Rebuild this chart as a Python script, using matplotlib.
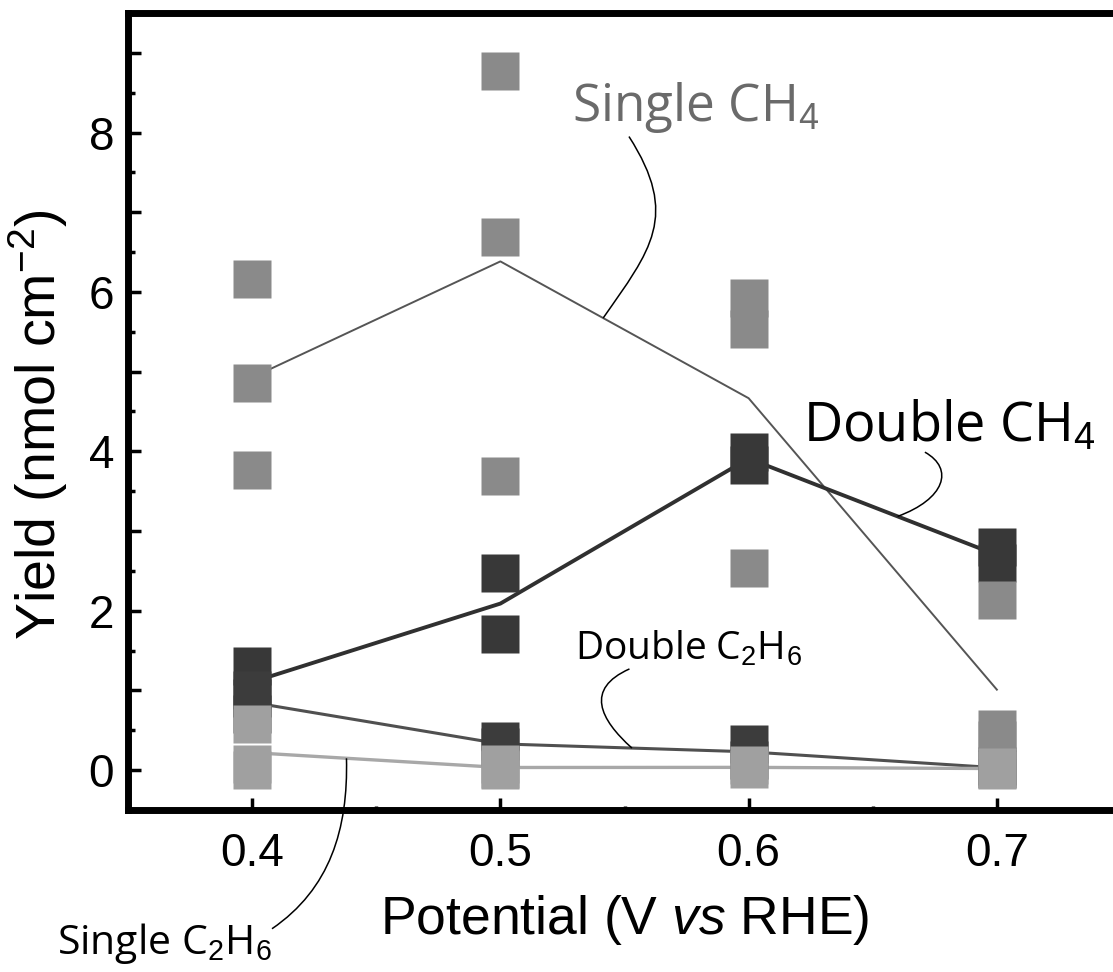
import numpy as np
import matplotlib
matplotlib.use("Agg")
import matplotlib.pyplot as plt
from matplotlib.path import Path
from matplotlib.patches import PathPatch

plt.rcParams["mathtext.fontset"] = "custom"
plt.rcParams["mathtext.rm"] = "Liberation Sans"
plt.rcParams["mathtext.it"] = "Liberation Sans:italic"

# potentials (V vs RHE)
potential = [0.4, 0.5, 0.6, 0.7]

# replicate yields (nmol cm-2) at each potential
single_ch4 = [[6.16, 4.86, 3.76], [8.77, 6.69, 3.69], [5.92, 5.54, 2.54], [2.13, 0.52, 0.38]]
double_ch4 = [[1.31, 0.90], [2.47, 1.71], [3.99, 3.83], [2.80, 2.60]]
double_c2h6 = [[1.00, 0.70], [0.37, 0.29], [0.33, 0.13], [0.05, 0.01]]
single_c2h6 = [[0.58, 0.08, 0.00], [0.08, 0.00, 0.02], [0.06, 0.01], [0.04, 0.00]]

x_ticks = [0.4, 0.5, 0.6, 0.7]
y_ticks = [0, 2, 4, 6, 8]

W, H = 1113, 972
fig = plt.figure(figsize=(W / 100, H / 100), dpi=100)
ax = fig.add_axes([128 / W, (H - 810) / H, (1121 - 128) / W, (810 - 13) / H])

ms = 28  # marker side in points (~39 px)


def scatter_pts(pts, color, z):
    xs, ys = [], []
    for p, vals in zip(potential, pts):
        xs += [p] * len(vals)
        ys += vals
    ax.plot(xs, ys, ls="none", marker="s", ms=ms, mfc=color, mec="none", zorder=z)


def mean_line(pts, color, lw, z):
    m = [np.mean(v) for v in pts]
    ax.plot(potential, m, color=color, lw=lw, zorder=z)
    return m


# lines (means)
m_sch4 = mean_line(single_ch4, "#555555", 1.4, 2)
m_dch4 = mean_line(double_ch4, "#303030", 2.8, 2)
m_dc2 = mean_line(double_c2h6, "#505050", 2.2, 2)
m_sc2 = mean_line(single_c2h6, "#a8a8a8", 2.4, 2)

# squares: double series dark, single series light on top
scatter_pts(double_ch4, "#383838", 3)
scatter_pts(double_c2h6, "#3c3c3c", 3)
scatter_pts(single_ch4, "#8a8a8a", 4)
scatter_pts(single_c2h6, "#a0a0a0", 4)

ax.set_xlim(0.35, 0.75)
ax.set_ylim(-0.5, 9.5)
ax.set_xticks(x_ticks)
ax.set_xticklabels(["0.4", "0.5", "0.6", "0.7"])
ax.set_xticks([0.45, 0.55, 0.65], minor=True)
ax.set_yticks(np.arange(0, 10, 1), minor=False)
ax.set_yticklabels([str(v) if v in y_ticks else "" for v in range(0, 10)])
ax.set_yticks(np.arange(0.5, 9.5, 1), minor=True)

for lab in ax.get_xticklabels() + ax.get_yticklabels():
    lab.set_fontfamily("Liberation Sans")
    lab.set_fontsize(33)

ax.tick_params(axis="both", which="both", direction="in", top=False, right=False, color="black")
ax.tick_params(axis="y", which="major", length=9, width=2.5, pad=10)
ax.tick_params(axis="y", which="minor", length=5, width=2.5)
ax.tick_params(axis="x", which="major", length=9, width=2.5, pad=16)
ax.tick_params(axis="x", which="minor", length=3, width=2.5)

for s in ["left", "top", "bottom", "right"]:
    ax.spines[s].set_linewidth(5)
    ax.spines[s].set_color("black")

ax.set_xlabel(r"Potential (V $\it{vs}$ RHE)", fontfamily="Liberation Sans", fontsize=38.5, va="center")
ax.xaxis.set_label_coords(0.5, (810 - 920) / 797)
ax.set_ylabel(r"Yield (nmol cm$^{-2}$)", fontfamily="Liberation Sans", fontsize=40, va="center")
ax.yaxis.set_label_coords((38 - 128) / 993, (810 - 425) / 797)

ann_font = "Open Sans"

ax.text(0.529, 8.15, r"Single CH$_4$", fontfamily=ann_font, fontsize=37, color="#6a6a6a",
        ha="left", va="baseline")
ax.text(0.622, 4.125, r"Double CH$_4$", fontfamily=ann_font, fontsize=39, color="black",
        ha="left", va="baseline")
ax.text(0.530, 1.38, r"Double C$_2$H$_6$", fontfamily=ann_font, fontsize=28, color="black",
        ha="left", va="baseline")
ax.text(0.3215, -2.31, r"Single C$_2$H$_6$", fontfamily=ann_font, fontsize=29.5, color="black",
        ha="left", va="baseline", clip_on=False)


def leader(p0, p1, p2, p3):
    path = Path([p0, p1, p2, p3], [Path.MOVETO, Path.CURVE4, Path.CURVE4, Path.CURVE4])
    ax.add_patch(PathPatch(path, fc="none", ec="black", lw=1.1, clip_on=False, zorder=5))


def on_line(m, x):
    return float(np.interp(x, potential, m))


leader((0.5518, 7.95), (0.5724, 6.95), (0.5604, 6.52), (0.5414, on_line(m_sch4, 0.5414)))
leader((0.671, 3.99), (0.683, 3.78), (0.679, 3.40), (0.660, on_line(m_dch4, 0.660)))
leader((0.552, 1.27), (0.534, 1.02), (0.540, 0.64), (0.553, on_line(m_dc2, 0.553)))
leader((0.408, -1.99), (0.4314, -1.49), (0.4387, -0.74), (0.438, on_line(m_sc2, 0.438)))

fig.savefig("out.png", dpi=100)
